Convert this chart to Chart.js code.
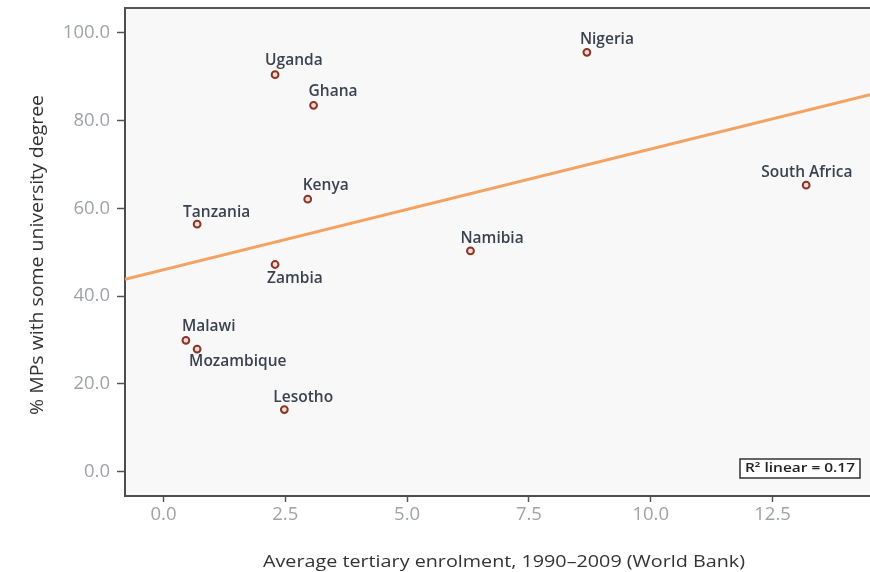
<!DOCTYPE html>
<html lang="en">
<head>
<meta charset="UTF-8">
<title>MPs with university degree vs tertiary enrolment</title>
<script src="https://cdn.jsdelivr.net/npm/chart.js"></script>
<style>
  html, body { margin: 0; padding: 0; background: #fff; }
</style>
</head>
<body>
<canvas id="scatter" width="870" height="572"></canvas>
<script>
    // data
    const countries = ['Uganda', 'Ghana', 'Nigeria', 'Kenya', 'Tanzania', 'South Africa', 'Namibia', 'Zambia', 'Malawi', 'Mozambique', 'Lesotho'];
    const enrolment = [2.29, 3.08, 8.69, 2.96, 0.69, 13.19, 6.30, 2.29, 0.46, 0.69, 2.48];
    const mpsDegree = [90.5, 83.5, 95.6, 62.1, 56.4, 65.3, 50.3, 47.2, 29.9, 27.9, 14.1];
    const fitX = [-0.79, 14.5];
    const fitY = [43.8, 85.9];
    const xTicks = [0, 2.5, 5, 7.5, 10, 12.5];
    const yTicks = [0, 20, 40, 60, 80, 100];
    const rSquared = '0.17';

    // where each country label sits relative to its point (px)
    const labelDx = [-10, -5, -7, -5, -14, -45, -10, -8, -4, -8, -11];
    const labelDy = [-14, -14, -13, -14, -12, -13, -12, 14, -14, 12, -12];

    const points = enrolment.map((x, i) => ({ x: x, y: mpsDegree[i] }));
    const fitLine = fitX.map((x, i) => ({ x: x, y: fitY[i] }));

    // draw text squeezed/stretched to a given width
    function fitText(ctx, txt, x, y, width) {
        const sx = width / ctx.measureText(txt).width;
        ctx.save();
        ctx.translate(x, y);
        ctx.scale(sx, 1);
        ctx.fillText(txt, 0, 0);
        ctx.restore();
    }

    // plot background, top frame line, R² box, axis titles
    const framePlugin = {
        id: 'frame',
        beforeDraw(chart) {
            const { ctx, chartArea: a } = chart;
            ctx.save();
            ctx.fillStyle = '#ffffff';
            ctx.fillRect(0, 0, chart.width, chart.height);
            ctx.fillStyle = '#f8f8f8';
            ctx.fillRect(a.left, a.top, a.right - a.left, a.bottom - a.top);
            ctx.restore();
        },
        afterDraw(chart) {
            const { ctx, chartArea: a } = chart;
            ctx.save();
            ctx.strokeStyle = '#555';
            ctx.lineWidth = 2;
            ctx.beginPath();
            ctx.moveTo(a.left - 1, a.top);
            ctx.lineTo(a.right, a.top);
            ctx.stroke();

            // R² box
            const txt = 'R\u00B2 linear = ' + rSquared;
            const bw = 120, bh = 19;
            const bx = a.right - 10 - bw, by = a.bottom - 37;
            ctx.fillStyle = '#ffffff';
            ctx.fillRect(bx, by, bw, bh);
            ctx.strokeStyle = '#333';
            ctx.lineWidth = 1.5;
            ctx.strokeRect(bx, by, bw, bh);
            ctx.font = '600 12px "Open Sans"';
            ctx.fillStyle = '#222';
            ctx.textBaseline = 'middle';
            ctx.textAlign = 'left';
            fitText(ctx, txt, bx + 5, by + bh / 2 + 0.5, bw - 10);

            // axis titles
            ctx.fillStyle = '#333';
            ctx.font = '17px "Open Sans"';
            ctx.textAlign = 'center';
            fitText(ctx, 'Average tertiary enrolment, 1990\u20132009 (World Bank)', 504, 562, 482);
            ctx.font = '19px "Open Sans"';
            ctx.translate(38, 255);
            ctx.rotate(-Math.PI / 2);
            fitText(ctx, '% MPs with some university degree', 0, 0, 320);
            ctx.restore();
        }
    };

    // country names next to the points
    const labelPlugin = {
        id: 'countryLabels',
        afterDatasetsDraw(chart) {
            const { ctx } = chart;
            const meta = chart.getDatasetMeta(1);
            ctx.save();
            ctx.font = '600 15.5px "Open Sans"';
            ctx.fillStyle = '#3c4150';
            ctx.textAlign = 'left';
            ctx.textBaseline = 'middle';
            meta.data.forEach((pt, i) => {
                ctx.fillText(countries[i], pt.x + labelDx[i], pt.y + labelDy[i]);
            });
            ctx.restore();
        }
    };

    const tickFont = { family: 'Open Sans', size: 18.5 };

    new Chart(document.getElementById('scatter'), {
        type: 'scatter',
        data: {
            datasets: [{
                label: 'Linear fit',
                data: fitLine,
                showLine: true,
                borderColor: '#f4a262',
                borderWidth: 3,
                pointRadius: 0
            }, {
                label: 'Countries',
                data: points,
                pointRadius: 3.4,
                pointBorderWidth: 2,
                borderColor: '#8a3526',
                backgroundColor: '#f2dcd4'
            }]
        },
        options: {
            responsive: false,
            animation: false,
            devicePixelRatio: 1,
            layout: { autoPadding: false, padding: { top: 8, right: 0, left: 0, bottom: 0 } },
            plugins: {
                legend: { display: false },
                tooltip: { enabled: false }
            },
            scales: {
                x: {
                    type: 'linear',
                    min: -0.79,
                    max: 14.5,
                    afterBuildTicks: s => { s.ticks = xTicks.map(v => ({ value: v })); },
                    afterFit: s => { s.height = 76; s.paddingLeft = 0; s.paddingRight = 0; },
                    grid: { drawOnChartArea: false, drawTicks: true, tickLength: 6, tickColor: '#555', tickWidth: 1.5 },
                    border: { display: true, color: '#4d4d4d', width: 2 },
                    ticks: { font: tickFont, color: '#a0a2aa', padding: 2, callback: v => v.toFixed(1) }
                },
                y: {
                    type: 'linear',
                    min: -5.6,
                    max: 105.7,
                    afterBuildTicks: s => { s.ticks = yTicks.map(v => ({ value: v })); },
                    afterFit: s => { s.width = 125; s.paddingTop = 0; s.paddingBottom = 0; },
                    grid: { drawOnChartArea: false, drawTicks: true, tickLength: 8, tickColor: '#555', tickWidth: 1.5 },
                    border: { display: true, color: '#4d4d4d', width: 2 },
                    ticks: { font: tickFont, color: '#a0a2aa', padding: 7, callback: v => v.toFixed(1) }
                }
            }
        },
        plugins: [framePlugin, labelPlugin]
    });
</script>
</body>
</html>
